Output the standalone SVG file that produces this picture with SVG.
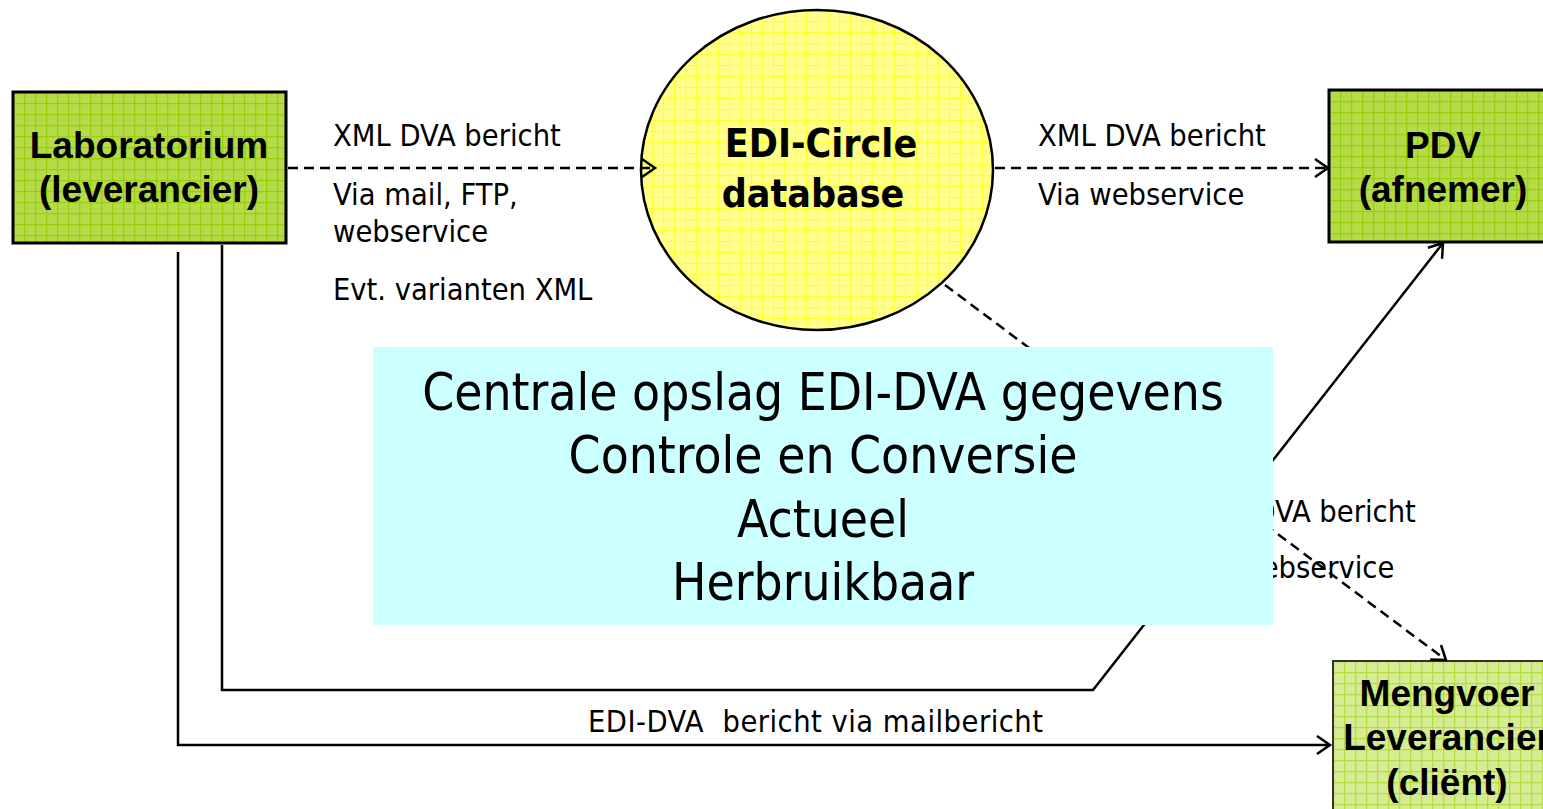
<svg xmlns="http://www.w3.org/2000/svg" width="1543" height="809" viewBox="0 0 1543 809">
<defs>
  <pattern id="gridDark" patternUnits="userSpaceOnUse" width="11" height="11" x="13" y="92">
    <rect width="11" height="11" fill="#b5dc48"/>
    <path d="M0,0.5 H11 M0.5,0 V11" stroke="#9bcd10" stroke-width="1.5" fill="none"/>
  </pattern>
  <pattern id="gridDark2" patternUnits="userSpaceOnUse" width="11" height="11" x="1329" y="90">
    <rect width="11" height="11" fill="#b5dc48"/>
    <path d="M0,0.5 H11 M0.5,0 V11" stroke="#9bcd10" stroke-width="1.5" fill="none"/>
  </pattern>
  <pattern id="gridLight" patternUnits="userSpaceOnUse" width="11" height="11" x="1333" y="661">
    <rect width="11" height="11" fill="#d6ec92"/>
    <path d="M0,0.5 H11 M0.5,0 V11" stroke="#b6db45" stroke-width="1.5" fill="none"/>
  </pattern>
  <pattern id="gridYellow" patternUnits="userSpaceOnUse" width="11" height="11" x="641" y="10">
    <rect width="11" height="11" fill="#ffff8a"/>
    <path d="M0,0.5 H11 M0.5,0 V11" stroke="#ffff33" stroke-width="1.2" fill="none"/>
  </pattern>
  <marker id="arr" markerUnits="userSpaceOnUse" markerWidth="18" markerHeight="22" refX="15" refY="11" orient="auto">
    <path d="M2,2 L15,11 L2,20" fill="none" stroke="#000" stroke-width="2.5"/>
  </marker>
</defs>
<style>
  .box { stroke:#000; stroke-width:3; }
  .boxtxt { font-family:'Liberation Sans',Arial,sans-serif; font-weight:bold; font-size:37px; fill:#000; text-anchor:middle; }
  .circtxt { font-family:'DejaVu Sans Condensed','Liberation Sans',sans-serif; font-weight:bold; font-size:39px; fill:#000; text-anchor:middle; }
  .lbl { font-family:'DejaVu Sans Condensed','Liberation Sans',sans-serif; font-size:30.5px; fill:#000; }
  .big { font-family:'DejaVu Sans Condensed','Liberation Sans',sans-serif; font-size:51px; fill:#000; text-anchor:middle; }
  .dash { fill:none; stroke:#000; stroke-width:2.5; stroke-dasharray:10,6; }
  .solid { fill:none; stroke:#000; stroke-width:2.5; }
</style>
<rect width="1543" height="809" fill="#ffffff"/>

<g id="node-laboratorium">
  <rect class="box" x="13" y="92" width="273" height="151" fill="url(#gridDark)"/>
  <text class="boxtxt" x="149" y="158">Laboratorium</text>
  <text class="boxtxt" x="149" y="202">(leverancier)</text>
</g>

<g id="node-edi-circle">
  <ellipse cx="817" cy="170" rx="176" ry="160" fill="url(#gridYellow)" stroke="#000" stroke-width="2.5"/>
  <text class="circtxt" x="821" y="157">EDI-Circle</text>
  <text class="circtxt" x="813" y="207">database</text>
</g>

<g id="node-pdv">
  <rect class="box" x="1329" y="90" width="230" height="152" fill="url(#gridDark2)"/>
  <text class="boxtxt" x="1443" y="158">PDV</text>
  <text class="boxtxt" x="1443" y="202">(afnemer)</text>
</g>

<g id="node-mengvoer">
  <rect x="1333" y="661" width="230" height="160" fill="url(#gridLight)" stroke="#333" stroke-width="2"/>
  <text class="boxtxt" x="1447" y="706">Mengvoer</text>
  <text class="boxtxt" x="1447" y="750">Leverancier</text>
  <text class="boxtxt" x="1447" y="795">(cliënt)</text>
</g>

<g id="labels">
  <text class="lbl" x="333" y="146">XML DVA bericht</text>
  <text class="lbl" x="333" y="205">Via mail, FTP,</text>
  <text class="lbl" x="333" y="242">webservice</text>
  <text class="lbl" x="333" y="300">Evt. varianten XML</text>
  <text class="lbl" x="1038" y="146">XML DVA bericht</text>
  <text class="lbl" x="1038" y="205">Via webservice</text>
  <text class="lbl" x="1188" y="522">XML DVA bericht</text>
  <text class="lbl" x="1188" y="578">Via webservice</text>
  <text class="lbl" x="588" y="732" xml:space="preserve" textLength="455" lengthAdjust="spacing">EDI-DVA  bericht via mailbericht</text>
</g>

<g id="connectors">
  <path class="dash" d="M288,168 L655,168" marker-end="url(#arr)"/>
  <path class="dash" d="M995,168 L1328,168" marker-end="url(#arr)"/>
  <path class="dash" d="M945,285 L1446,660" marker-end="url(#arr)"/>
  <path class="solid" d="M178,252 V745 H1330" marker-end="url(#arr)"/>
  <path class="solid" d="M222,245 V690 H1093 L1443,243" marker-end="url(#arr)"/>
</g>

<g id="node-centrale-opslag">
  <rect x="373" y="347" width="900" height="278" fill="#ccffff"/>
  <text class="big" x="823" y="410">Centrale opslag EDI-DVA gegevens</text>
  <text class="big" x="823" y="473">Controle en Conversie</text>
  <text class="big" x="823" y="537">Actueel</text>
  <text class="big" x="823" y="600">Herbruikbaar</text>
</g>
</svg>
